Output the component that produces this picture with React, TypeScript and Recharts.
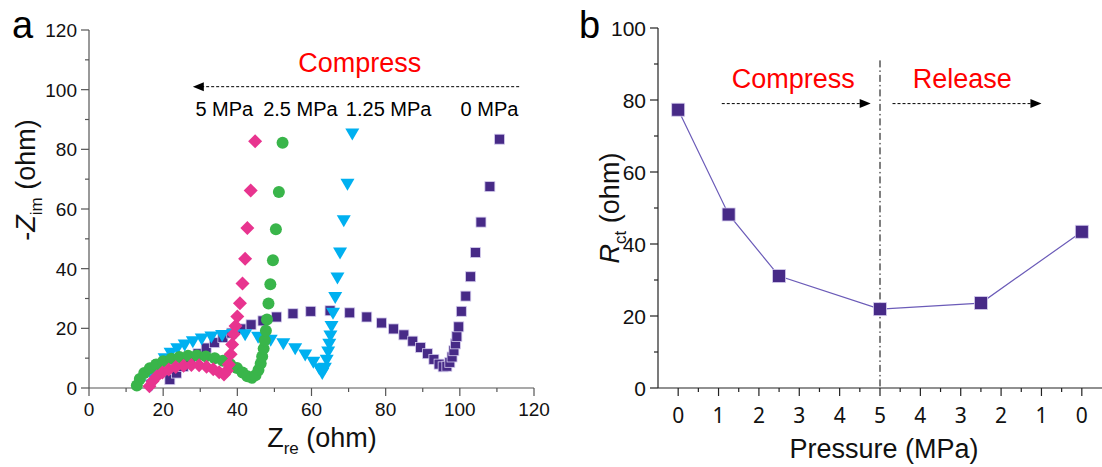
import React from "react";
import {
  Line,
  LineChart,
  ReferenceDot,
  ReferenceLine,
  Scatter,
  ScatterChart,
  XAxis,
  YAxis,
} from "recharts";

// panel a: Nyquist plots, [Zre, -Zim] in ohm
const mpa0 = [
  [21.8, 2.8], [23.6, 5], [25.4, 7.2], [27.4, 9.4], [29.4, 11.5], [31.6, 13.4],
  [33.8, 15.2], [36.1, 16.9], [38.5, 18.4], [41, 19.8], [43.7, 21.2], [46.9, 22.5],
  [50.6, 23.8], [55, 24.9], [59.8, 25.7], [65, 25.9], [70.3, 25.2], [74.9, 23.8],
  [78.9, 21.8], [82.1, 19.8], [84.9, 17.8], [87.3, 15.7], [89.4, 13.6], [91.3, 11.5],
  [93, 9.6], [94.4, 8], [95.5, 7.1], [96.5, 7.3], [97.3, 8.6], [97.9, 10.4],
  [98.4, 12.5], [98.8, 14.8], [99.2, 17.3], [99.7, 20.5], [100.4, 25.7],
  [101.6, 30.8], [102.9, 37.3], [104.2, 45.4], [105.7, 55.6], [108.1, 67.5],
  [110.7, 83.4],
];
const mpa125 = [
  [16.9, 1.2], [17.4, 3.5], [18.1, 5.8], [19.1, 8], [20.4, 10], [22, 11.8],
  [23.8, 13.3], [25.8, 14.6], [28, 15.7], [30.4, 16.6], [33, 17.3], [35.9, 17.8],
  [38.9, 18.1], [42.1, 18], [45.6, 17.2], [49, 16.2], [52.4, 15], [55.6, 13.3],
  [58.3, 11.2], [60.5, 8.8], [62.1, 6.6], [62.9, 5], [63.6, 6.8], [64.1, 9.5],
  [64.5, 12.2], [64.8, 14.8], [65.1, 17.6], [65.4, 20.8], [65.8, 25.2],
  [66.4, 30.5], [67, 37], [67.7, 45.4], [68.7, 56.2], [69.7, 68.5], [71, 85.3],
];
const mpa25 = [
  [12.9, 0.8], [13.7, 3], [14.9, 5], [16.4, 6.6], [18.1, 7.9], [20, 9], [22.2, 9.8],
  [24.4, 10.4], [26.7, 10.8], [29.1, 10.9], [31.5, 10.6], [33.9, 10], [36.1, 9.1],
  [38.1, 8], [39.9, 6.7], [41.4, 5.2], [42.7, 3.9], [43.9, 3.4], [44.9, 4.3],
  [45.7, 6], [46.3, 8.2], [46.7, 10.6], [47.1, 13.2], [47.4, 16], [47.7, 19.2],
  [48, 23], [48.4, 28.3], [48.9, 34.8], [49.6, 42.8], [50.4, 53.2], [51.2, 65.7],
  [52.2, 82.2],
];
const mpa5 = [
  [16.3, 0.6], [17.1, 2.3], [18.3, 3.9], [19.8, 5.2], [21.5, 6.2], [23.4, 7],
  [25.5, 7.5], [27.6, 7.7], [29.7, 7.6], [31.7, 7.1], [33.5, 6.3], [35.1, 5.3],
  [36.4, 4.5], [37.2, 5.8], [37.7, 7.9], [38.2, 11.3], [38.6, 14.6], [39, 18],
  [39.5, 20.8], [40, 24], [40.7, 28.4], [41.4, 35], [42.1, 43.3], [42.7, 53.6],
  [43.6, 66.2], [44.8, 82.7],
];
const seriesLabels = ["5 MPa", "2.5 MPa", "1.25 MPa", "0 MPa"];
const seriesLabelX = [36.5, 57, 80.8, 108];

// panel b: charge transfer resistance vs pressure step
const stepPos = [0, 1.25, 2.5, 5, 7.5, 10];
const rct = [77.3, 48.2, 31.1, 21.9, 23.6, 43.4];
const pressureTickLabels = ["0", "1", "2", "3", "4", "5", "4", "3", "2", "1", "0"];

const toPts = (arr: number[][]) => arr.map(([x, y]) => ({ x, y }));
const rctData = stepPos.map((pos, i) => ({ pos, rct: rct[i] }));

const FONT = '"Liberation Sans", Arial, sans-serif';
const W = 1102;
const H = 467;

const Square = (s: number, fill: string) => (p: any) => (
  <rect x={p.cx - s / 2} y={p.cy - s / 2} width={s} height={s} fill={fill} stroke="#d5cdee" strokeWidth={0.8} />
);
const Tri = (p: any) => (
  <polygon points={`${p.cx - 7},${p.cy - 5} ${p.cx + 7},${p.cy - 5} ${p.cx},${p.cy + 7}`} fill="#00b0f0" />
);
const Dot = (p: any) => <circle cx={p.cx} cy={p.cy} r={6} fill="#39b54a" />;
const Diamond = (p: any) => (
  <polygon points={`${p.cx},${p.cy - 7} ${p.cx + 7},${p.cy} ${p.cx},${p.cy + 7} ${p.cx - 7},${p.cy}`} fill="#e8348f" />
);

const Arrow = (p: any) => {
  const { x1, y1, x2, y2 } = p;
  const d = Math.sign(x2 - x1);
  return (
    <g>
      <line x1={x1} y1={y1} x2={x2 - d * 9} y2={y2} stroke="#000" strokeWidth={1} strokeDasharray="3 2" />
      <polygon points={`${x2},${y2} ${x2 - d * 11},${y2 - 4.5} ${x2 - d * 11},${y2 + 4.5}`} fill="#000" />
    </g>
  );
};

const TextAt = (txt: string, size: number, color: string) => (p: any) => (
  <text x={p.cx} y={p.cy} textAnchor="middle" fontFamily={FONT} fontSize={size} fill={color}>
    {txt}
  </text>
);

// tick renderers: major/minor tick lines drawn by hand
const yTick = (step: number, color: string, size: number, fmt?: (v: number) => string) => (p: any) => {
  const v = p.payload.value;
  const major = Math.abs(v / step - Math.round(v / step)) < 1e-6;
  const len = major ? 8 : 4;
  return (
    <g>
      <line x1={p.x} x2={p.x - len} y1={p.y} y2={p.y} stroke={color} strokeWidth={1.2} />
      {major && (
        <text x={p.x - 12} y={p.y} dy="0.36em" textAnchor="end" fontFamily={FONT} fontSize={size} fill="#111">
          {fmt ? fmt(v) : v}
        </text>
      )}
    </g>
  );
};
const xTick = (step: number, color: string, size: number, off: number, family: string, fmt?: (v: number) => string) => (p: any) => {
  const v = p.payload.value;
  const major = Math.abs(v / step - Math.round(v / step)) < 1e-6;
  const len = major ? 8 : 4;
  return (
    <g>
      <line x1={p.x} x2={p.x} y1={p.y} y2={p.y + len} stroke={color} strokeWidth={1.2} />
      {major && (
        <text x={p.x} y={p.y + off} textAnchor="middle" fontFamily={family} fontSize={size} fill="#111">
          {fmt ? fmt(v) : v}
        </text>
      )}
    </g>
  );
};

const ticksA = Array.from({ length: 13 }, (_, i) => i * 10);
const ticksBy = Array.from({ length: 11 }, (_, i) => i * 10);
const ticksBx = Array.from({ length: 21 }, (_, i) => i * 0.5);

export default function App() {
  const axA = "#555";
  const axB = "#222";
  return (
    <div style={{ position: "absolute", left: 0, top: 0, width: W, height: H, background: "#fff" }}>
      <div style={{ position: "absolute", left: 0, top: 0 }}>
        <ScatterChart width={560} height={H} margin={{ top: 30, right: 26, left: 0, bottom: 29 }}>
          <XAxis
            type="number"
            dataKey="x"
            domain={[0, 120]}
            ticks={ticksA}
            interval={0}
            height={50}
            stroke={axA}
            strokeWidth={1.2}
            tickSize={0}
            tickMargin={0}
            tick={xTick(20, axA, 19, 28, FONT)}
          />
          <YAxis
            type="number"
            dataKey="y"
            domain={[0, 120]}
            ticks={ticksA}
            interval={0}
            width={89}
            stroke={axA}
            strokeWidth={1.2}
            tickSize={0}
            tickMargin={0}
            tick={yTick(20, axA, 19)}
          />
          <Scatter data={toPts(mpa0)} shape={Square(10, "#472a87")} isAnimationActive={false} />
          <Scatter data={toPts(mpa125)} shape={Tri} isAnimationActive={false} />
          <Scatter data={toPts(mpa25)} shape={Dot} isAnimationActive={false} />
          <Scatter data={toPts(mpa5)} shape={Diamond} isAnimationActive={false} />
          <ReferenceLine segment={[{ x: 116, y: 101 }, { x: 28, y: 101 }]} shape={Arrow} />
          <ReferenceDot x={73} y={106} r={0} shape={TextAt("Compress", 27, "#ff0000")} />
          {seriesLabels.map((s, i) => (
            <ReferenceDot key={s} x={seriesLabelX[i]} y={91.3} r={0} shape={TextAt(s, 20, "#000")} />
          ))}
        </ScatterChart>
      </div>
      <div style={{ position: "absolute", left: 560, top: 0 }}>
        <LineChart width={542} height={H} data={rctData} margin={{ top: 28, right: 0, left: 0, bottom: 29 }}>
          <XAxis
            type="number"
            dataKey="pos"
            domain={[-0.5, 10.5]}
            ticks={ticksBx}
            interval={0}
            height={50}
            stroke={axB}
            strokeWidth={1.2}
            tickSize={0}
            tickMargin={0}
            tick={xTick(1, axB, 21, 35, '"Noto Sans", sans-serif', (v) => pressureTickLabels[Math.round(v)])}
          />
          <YAxis
            type="number"
            domain={[0, 100]}
            ticks={ticksBy}
            interval={0}
            width={98}
            stroke={axB}
            strokeWidth={1.2}
            tickSize={0}
            tickMargin={0}
            tick={yTick(20, axB, 21)}
          />
          <ReferenceLine
            segment={[{ x: 5, y: 91 }, { x: 5, y: 0 }]}
            stroke="#000"
            strokeWidth={1}
            strokeDasharray="7 3 1.5 3"
          />
          <ReferenceLine segment={[{ x: 1.08, y: 79 }, { x: 4.77, y: 79 }]} shape={Arrow} />
          <ReferenceLine segment={[{ x: 5.31, y: 79 }, { x: 9.0, y: 79 }]} shape={Arrow} />
          <ReferenceDot x={2.85} y={83.3} r={0} shape={TextAt("Compress", 27, "#ff0000")} />
          <ReferenceDot x={7.04} y={83.3} r={0} shape={TextAt("Release", 27, "#ff0000")} />
          <Line
            dataKey="rct"
            stroke="#6b5bb8"
            strokeWidth={1.2}
            dot={Square(13, "#472a87")}
            activeDot={false}
            isAnimationActive={false}
          />
        </LineChart>
      </div>
      <svg width={W} height={H} style={{ position: "absolute", left: 0, top: 0, pointerEvents: "none" }} fontFamily={FONT}>
        <text x={12} y={38} fontSize={38} fill="#000">a</text>
        <text x={579} y={38} fontSize={38} fill="#000">b</text>
        <text transform="translate(35,180) rotate(-90)" textAnchor="middle" fontSize={27} fill="#111">
          -<tspan fontStyle="italic">Z</tspan>
          <tspan dy={7} fontSize={17}>im</tspan>
          <tspan dy={-7}> (ohm)</tspan>
        </text>
        <text x={322} y={447} textAnchor="middle" fontSize={27} fill="#111">
          <tspan>Z</tspan>
          <tspan dy={7} fontSize={17}>re</tspan>
          <tspan dy={-7}> (ohm)</tspan>
        </text>
        <text transform="translate(619,208) rotate(-90)" textAnchor="middle" fontSize={27} fill="#111">
          <tspan fontStyle="italic">R</tspan>
          <tspan dy={7} fontSize={17}>ct</tspan>
          <tspan dy={-7}> (ohm)</tspan>
        </text>
        <text x={884} y={458} textAnchor="middle" fontSize={27} fill="#111">Pressure (MPa)</text>
      </svg>
    </div>
  );
}
